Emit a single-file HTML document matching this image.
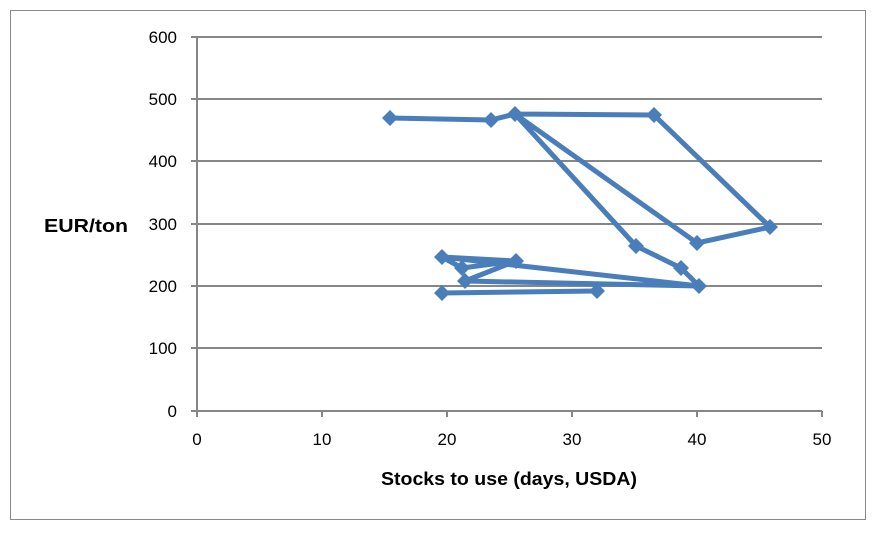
<!DOCTYPE html><html><head><style>body{margin:0;background:#fff}</style></head><body>
<svg width="886" height="549" xmlns="http://www.w3.org/2000/svg" font-family="Liberation Sans, sans-serif">
<rect x="0" y="0" width="886" height="549" fill="#fff"/>
<rect x="10.5" y="10.5" width="855" height="509" fill="none" stroke="#888" stroke-width="1"/>
<g stroke="#868686" stroke-width="2">
<line x1="197" y1="37" x2="822" y2="37"/><line x1="197" y1="99" x2="822" y2="99"/><line x1="197" y1="161" x2="822" y2="161"/><line x1="197" y1="224" x2="822" y2="224"/><line x1="197" y1="286" x2="822" y2="286"/><line x1="197" y1="348" x2="822" y2="348"/><line x1="197" y1="411" x2="822" y2="411"/>
<line x1="197" y1="37" x2="197" y2="411"/>
<line x1="191" y1="37" x2="197" y2="37"/><line x1="191" y1="99" x2="197" y2="99"/><line x1="191" y1="161" x2="197" y2="161"/><line x1="191" y1="224" x2="197" y2="224"/><line x1="191" y1="286" x2="197" y2="286"/><line x1="191" y1="348" x2="197" y2="348"/><line x1="191" y1="411" x2="197" y2="411"/>
<line x1="322" y1="411" x2="322" y2="417"/><line x1="447" y1="411" x2="447" y2="417"/><line x1="572" y1="411" x2="572" y2="417"/><line x1="697" y1="411" x2="697" y2="417"/><line x1="822" y1="411" x2="822" y2="417"/><line x1="197" y1="411" x2="197" y2="417"/>
</g>
<g font-size="17" fill="#000" text-anchor="end">
<text x="177" y="43">600</text><text x="177" y="105">500</text><text x="177" y="167">400</text><text x="177" y="230">300</text><text x="177" y="292">200</text><text x="177" y="354">100</text><text x="177" y="417">0</text>
</g>
<g font-size="17" fill="#000" text-anchor="middle">
<text x="197" y="445">0</text><text x="322" y="445">10</text><text x="447" y="445">20</text><text x="572" y="445">30</text><text x="697" y="445">40</text><text x="822" y="445">50</text>
</g>
<text x="381" y="485" font-size="18" font-weight="bold" textLength="256" lengthAdjust="spacingAndGlyphs">Stocks to use (days,  USDA)</text>
<text x="44" y="232" font-size="18" font-weight="bold" textLength="84" lengthAdjust="spacingAndGlyphs">EUR/ton</text>
<g stroke="#4a7ebb" stroke-width="5" fill="none" stroke-linejoin="round">
<polyline points="390,118 491,120 515,114 654,115 770,227 697,243 515,114 636,246 681,268 699,286 442,257 462,268 516,261 465,281 699,286"/>
<polyline points="442,257 516,261"/>
<polyline points="442,293 597,291"/>
</g>
<g fill="#4a7ebb">
<path d="M0,-8 L8,0 L0,8 L-8,0Z" transform="translate(390,118)"/>
<path d="M0,-8 L8,0 L0,8 L-8,0Z" transform="translate(491,120)"/>
<path d="M0,-8 L8,0 L0,8 L-8,0Z" transform="translate(515,114)"/>
<path d="M0,-8 L8,0 L0,8 L-8,0Z" transform="translate(654,115)"/>
<path d="M0,-8 L8,0 L0,8 L-8,0Z" transform="translate(770,227)"/>
<path d="M0,-8 L8,0 L0,8 L-8,0Z" transform="translate(697,243)"/>
<path d="M0,-8 L8,0 L0,8 L-8,0Z" transform="translate(636,246)"/>
<path d="M0,-8 L8,0 L0,8 L-8,0Z" transform="translate(681,268)"/>
<path d="M0,-8 L8,0 L0,8 L-8,0Z" transform="translate(699,286)"/>
<path d="M0,-8 L8,0 L0,8 L-8,0Z" transform="translate(442,257)"/>
<path d="M0,-8 L8,0 L0,8 L-8,0Z" transform="translate(462,268)"/>
<path d="M0,-8 L8,0 L0,8 L-8,0Z" transform="translate(516,261)"/>
<path d="M0,-8 L8,0 L0,8 L-8,0Z" transform="translate(465,281)"/>
<path d="M0,-8 L8,0 L0,8 L-8,0Z" transform="translate(597,291)"/>
<path d="M0,-8 L8,0 L0,8 L-8,0Z" transform="translate(442,293)"/>
</g>
</svg>
</body></html>
